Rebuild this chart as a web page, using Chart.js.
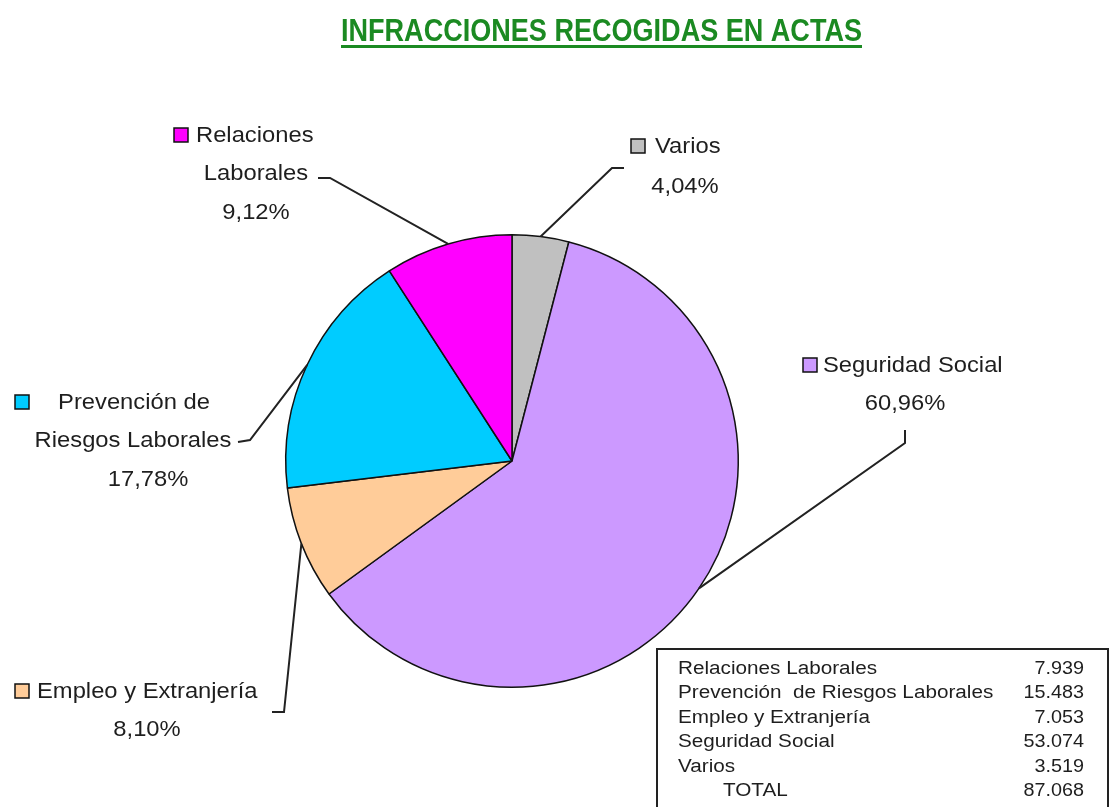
<!DOCTYPE html>
<html>
<head>
<meta charset="utf-8">
<script src="https://cdn.jsdelivr.net/npm/chart.js"></script>
<style>
  body { margin: 0; background: #fff; }
  canvas { display: block; }
</style>
</head>
<body>
<canvas id="pie" width="1110" height="807"></canvas>
<script>
// slices in drawing order (clockwise from 12 o'clock)
const categories = ['Varios', 'Seguridad Social', 'Empleo y Extranjería', 'Prevención de Riesgos Laborales', 'Relaciones Laborales'];
const infracciones = [3519, 53074, 7053, 15483, 7939];
const sliceColors = ['#C0C0C0', '#CC99FF', '#FFCC99', '#00CCFF', '#FF00FF'];

// table rows (order as printed)
const tableLabels = ['Relaciones Laborales', 'Prevención  de Riesgos Laborales', 'Empleo y Extranjería', 'Seguridad Social', 'Varios'];
const tableValues = [7939, 15483, 7053, 53074, 3519];

const titleText = 'INFRACCIONES RECOGIDAS EN ACTAS';
const FONT = '"Liberation Sans", Arial, sans-serif';

const total = infracciones.reduce((a, b) => a + b, 0);
const fmtPct = v => (v / total * 100).toFixed(2).replace('.', ',') + '%';
const fmtNum = v => v.toLocaleString('de-DE');

// label blocks: lines of text, swatch, and the bend of the leader line
const labelLayout = {
  'Varios': { lines: [[655, 147, 'left'], [685, 187, 'center']], text: ['Varios'], box: [631, 139], path: [[624, 168], [612, 168]] },
  'Seguridad Social': { lines: [[823, 366, 'left'], [905, 404, 'center']], text: ['Seguridad Social'], box: [803, 358], path: [[905, 430], [905, 443]] },
  'Empleo y Extranjería': { lines: [[37, 692, 'left'], [147, 730, 'center']], text: ['Empleo y Extranjería'], box: [15, 684], path: [[272, 712], [284, 712]] },
  'Prevención de Riesgos Laborales': { lines: [[134, 403, 'center'], [133, 441, 'center'], [148, 480, 'center']], text: ['Prevención de', 'Riesgos Laborales'], box: [15, 395], path: [[238, 442], [250, 440]] },
  'Relaciones Laborales': { lines: [[196, 136, 'left'], [256, 174, 'center'], [256, 213, 'center']], text: ['Relaciones', 'Laborales'], box: [174, 128], path: [[318, 178], [330, 178]] }
};

// text drawn slightly stretched sideways, like the source image
function wideText(ctx, t, x, y, align, sx) {
  const w = ctx.measureText(t).width * sx;
  let left = x;
  if (align === 'center') left = x - w / 2;
  if (align === 'right') left = x - w;
  ctx.save();
  ctx.textAlign = 'left';
  ctx.translate(left, y);
  ctx.scale(sx, 1);
  ctx.fillText(t, 0, 0);
  ctx.restore();
}

const calloutPlugin = {
  id: 'callouts',
  afterDraw(chart) {
    const ctx = chart.ctx;
    const meta = chart.getDatasetMeta(0);

    // title
    ctx.save();
    ctx.font = 'bold 31px ' + FONT;
    const tw = ctx.measureText(titleText).width;
    const targetW = 521;
    ctx.translate(341, 41);
    ctx.scale(targetW / tw, 1);
    ctx.fillStyle = '#1B8A22';
    ctx.textBaseline = 'alphabetic';
    ctx.fillText(titleText, 0, 0);
    ctx.restore();
    ctx.fillStyle = '#1B8A22';
    ctx.fillRect(341, 45, targetW, 3);

    // callouts
    meta.data.forEach((arc, i) => {
      const name = categories[i];
      const lay = labelLayout[name];
      const mid = (arc.startAngle + arc.endAngle) / 2;
      const ax = arc.x + Math.cos(mid) * arc.outerRadius;
      const ay = arc.y + Math.sin(mid) * arc.outerRadius;

      ctx.save();
      ctx.strokeStyle = '#222';
      ctx.lineWidth = 2;
      ctx.beginPath();
      ctx.moveTo(lay.path[0][0], lay.path[0][1]);
      ctx.lineTo(lay.path[1][0], lay.path[1][1]);
      ctx.lineTo(ax, ay);
      ctx.stroke();

      ctx.fillStyle = sliceColors[i];
      ctx.fillRect(lay.box[0], lay.box[1], 14, 14);
      ctx.strokeStyle = '#111';
      ctx.lineWidth = 1.5;
      ctx.strokeRect(lay.box[0], lay.box[1], 14, 14);

      ctx.fillStyle = '#1e1e1e';
      ctx.font = '22px ' + FONT;
      ctx.textBaseline = 'middle';
      const texts = lay.text.concat([fmtPct(infracciones[i])]);
      texts.forEach((t, k) => {
        const [x, y, align] = lay.lines[k];
        wideText(ctx, t, x, y, align, 1.08);
      });
      ctx.restore();
    });

    // data table
    ctx.save();
    ctx.strokeStyle = '#222';
    ctx.lineWidth = 2;
    ctx.strokeRect(657, 649, 451, 170);
    ctx.fillStyle = '#1e1e1e';
    ctx.font = '18px ' + FONT;
    ctx.textBaseline = 'middle';
    tableLabels.forEach((t, k) => {
      const y = 669 + k * 24.5;
      wideText(ctx, t, 678, y, 'left', 1.15);
      wideText(ctx, fmtNum(tableValues[k]), 1084, y, 'right', 1.1);
    });
    const yT = 669 + 5 * 24.5;
    wideText(ctx, 'TOTAL', 723, yT, 'left', 1.15);
    wideText(ctx, fmtNum(tableValues.reduce((a, b) => a + b, 0)), 1084, yT, 'right', 1.1);
    ctx.restore();
  }
};

new Chart(document.getElementById('pie').getContext('2d'), {
  type: 'pie',
  data: {
    labels: categories,
    datasets: [{
      data: infracciones,
      backgroundColor: sliceColors,
      borderColor: '#111',
      borderWidth: 1.5
    }]
  },
  options: {
    responsive: false,
    animation: false,
    layout: { padding: { left: 285, right: 371, top: 234, bottom: 119 } },
    plugins: {
      legend: { display: false },
      tooltip: { enabled: false }
    }
  },
  plugins: [calloutPlugin]
});
</script>
</body>
</html>
